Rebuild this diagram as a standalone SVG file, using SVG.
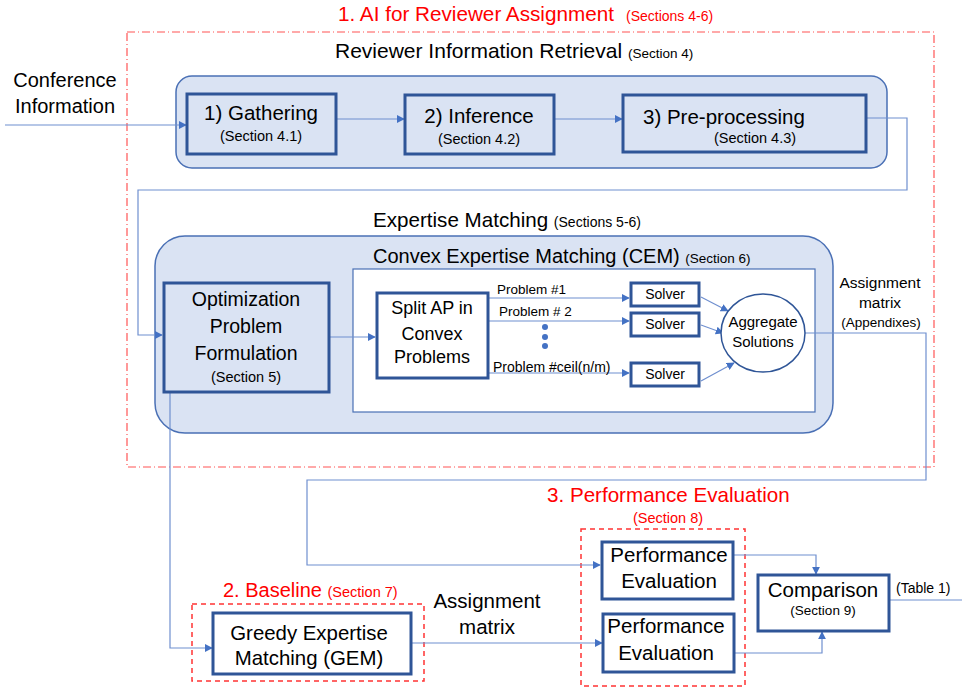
<svg xmlns="http://www.w3.org/2000/svg" width="962" height="690" viewBox="0 0 962 690">
<style>
  text { font-family: "Liberation Sans", Arial, sans-serif; fill: #000; }
  .red { fill: #ff0000; }
  .c { text-anchor: middle; }
  .cont { fill: #dae3f3; stroke: #4a70b5; stroke-width: 1.5; }
  .box { fill: #dae3f3; stroke: #2f5597; stroke-width: 3; }
  .wbox { fill: #fff; stroke: #2f5597; stroke-width: 3; }
  .inner { fill: #fff; stroke: #4a70b5; stroke-width: 1.2; }
  .wire { fill: none; stroke: #6f8fcf; stroke-width: 1.2; }
  .arr { fill: none; stroke: #6f8fcf; stroke-width: 1.2; marker-end: url(#ah); }
  .dashred { fill: none; stroke: #ff3333; stroke-width: 1.5; stroke-dasharray: 5 4; }
  .dashdot { fill: none; stroke: #ff5555; stroke-width: 1.2; stroke-dasharray: 8 3 1 3; }
</style>
<defs>
  <marker id="ah" viewBox="0 0 10 10" refX="9" refY="5" markerWidth="8" markerHeight="8" markerUnits="userSpaceOnUse" orient="auto">
    <path d="M0,0 L10,5 L0,10 z" fill="#4472c4"/>
  </marker>
</defs>

<!-- section frames and headings -->
<g id="frames">
  <text x="338" y="21" class="red" font-size="20.7">1. AI for Reviewer Assignment</text>
  <text x="626" y="21" class="red" font-size="14">(Sections 4-6)</text>
  <rect x="127" y="32" width="807" height="435" class="dashdot"/>
  <text x="335" y="58" font-size="21">Reviewer Information Retrieval <tspan font-size="13.5">(Section 4)</tspan></text>
  <text x="373" y="227" font-size="20.6">Expertise Matching <tspan font-size="14">(Sections 5-6)</tspan></text>
  <text x="547" y="502" class="red" font-size="20.6">3. Performance Evaluation</text>
  <text x="668" y="523" class="red c" font-size="14.5">(Section 8)</text>
  <rect x="581" y="529" width="164" height="157" class="dashred"/>
  <text x="223" y="597" class="red" font-size="20">2. Baseline <tspan font-size="14.5">(Section 7)</tspan></text>
  <rect x="192" y="604" width="232" height="77" class="dashred"/>
</g>

<!-- containers -->
<g id="retrieval">
  <rect x="176" y="76" width="711" height="92" rx="16" class="cont"/>
</g>
<g id="cem">
  <rect x="155" y="236" width="678" height="197" rx="30" class="cont"/>
  <text x="373" y="263" font-size="20">Convex Expertise Matching (CEM) <tspan font-size="13.5">(Section 6)</tspan></text>
  <rect x="353" y="269" width="462" height="143" class="inner"/>
</g>

<!-- connectors -->
<g id="connectors">
  <path d="M5,125 H186" class="arr"/>
  <path d="M336,119 H404" class="arr"/>
  <path d="M554,119 H622" class="arr"/>
  <path d="M866,118 H907 V190 H138 V335 H162" class="arr"/>
  <path d="M329,337 H375" class="arr"/>
  <path d="M488,298 H629" class="arr"/>
  <path d="M488,321 H629" class="arr"/>
  <path d="M488,373 H629" class="arr"/>
  <path d="M701,297 L728,311" class="arr"/>
  <path d="M701,325 L723,333" class="arr"/>
  <path d="M701,381 L734,363" class="arr"/>
  <path d="M805,333 H926 V480 H307 V565 H600" class="arr"/>
  <path d="M170,392 V648 H212" class="arr"/>
  <path d="M411,643 H602" class="arr"/>
  <path d="M733,555 H816 V574" class="arr"/>
  <path d="M734,653 H822 V632" class="arr"/>
  <path d="M889,600 H962" class="wire"/>
  <circle cx="545" cy="327" r="3" fill="#4472c4"/>
  <circle cx="545" cy="337" r="3" fill="#4472c4"/>
  <circle cx="545" cy="346" r="3" fill="#4472c4"/>
</g>

<!-- free labels -->
<g id="labels">
  <text x="65" y="87" class="c" font-size="20">Conference</text>
  <text x="65" y="113" class="c" font-size="20">Information</text>
  <text x="497" y="294" font-size="13.5">Problem #1</text>
  <text x="499" y="316" font-size="13.5">Problem # 2</text>
  <text x="493" y="372" font-size="14">Problem #ceil(n/m)</text>
  <text x="880" y="288" class="c" font-size="15.5">Assignment</text>
  <text x="880" y="308" class="c" font-size="15.5">matrix</text>
  <text x="881" y="327" class="c" font-size="13.5">(Appendixes)</text>
  <text x="487" y="608" class="c" font-size="20.5">Assignment</text>
  <text x="487" y="634" class="c" font-size="20.5">matrix</text>
  <text x="896" y="593" font-size="14">(Table 1)</text>
</g>

<g id="gathering">
  <rect x="187" y="94" width="149" height="60" class="box"/>
  <text x="261" y="120" class="c" font-size="20.5">1) Gathering</text>
  <text x="261" y="141" class="c" font-size="14.5">(Section 4.1)</text>
</g>
<g id="inference">
  <rect x="405" y="95" width="149" height="59" class="box"/>
  <text x="479" y="123" class="c" font-size="20.5">2) Inference</text>
  <text x="479" y="144" class="c" font-size="14.5">(Section 4.2)</text>
</g>
<g id="preprocessing">
  <rect x="623" y="95" width="243" height="57" class="box"/>
  <text x="643" y="124" font-size="20.5">3) Pre-processing</text>
  <text x="755" y="143" class="c" font-size="14.5">(Section 4.3)</text>
</g>
<g id="formulation">
  <rect x="164" y="283" width="165" height="109" class="box"/>
  <text x="246" y="306" class="c" font-size="19.5">Optimization</text>
  <text x="246" y="333" class="c" font-size="19.5">Problem</text>
  <text x="246" y="360" class="c" font-size="19.5">Formulation</text>
  <text x="246" y="382" class="c" font-size="14.5">(Section 5)</text>
</g>
<g id="split">
  <rect x="377" y="293" width="111" height="85" class="wbox"/>
  <text x="432" y="314" class="c" font-size="18">Split AP in</text>
  <text x="432" y="340" class="c" font-size="18">Convex</text>
  <text x="432" y="363" class="c" font-size="18">Problems</text>
</g>
<g id="solver1">
  <rect x="631" y="283" width="68" height="23" class="wbox"/>
  <text x="665" y="299" class="c" font-size="14">Solver</text>
</g>
<g id="solver2">
  <rect x="631" y="313" width="68" height="23" class="wbox"/>
  <text x="665" y="329" class="c" font-size="14">Solver</text>
</g>
<g id="solver3">
  <rect x="631" y="363" width="68" height="23" class="wbox"/>
  <text x="665" y="379" class="c" font-size="14">Solver</text>
</g>
<g id="aggregate">
  <ellipse cx="763" cy="333" rx="42" ry="39" fill="#fff" stroke="#2f5597" stroke-width="1.5"/>
  <text x="763" y="327" class="c" font-size="15">Aggregate</text>
  <text x="763" y="347" class="c" font-size="15">Solutions</text>
</g>
<g id="gem">
  <rect x="213" y="613" width="198" height="61" class="wbox"/>
  <text x="309" y="640" class="c" font-size="20.4">Greedy Expertise</text>
  <text x="309" y="665" class="c" font-size="20.4">Matching (GEM)</text>
</g>
<g id="perf1">
  <rect x="602" y="542" width="131" height="57" class="wbox"/>
  <text x="669" y="562" class="c" font-size="20.5">Performance</text>
  <text x="669" y="588" class="c" font-size="20.5">Evaluation</text>
</g>
<g id="perf2">
  <rect x="603" y="614" width="131" height="58" class="wbox"/>
  <text x="666" y="633" class="c" font-size="20.5">Performance</text>
  <text x="666" y="660" class="c" font-size="20.5">Evaluation</text>
</g>
<g id="comparison">
  <rect x="758" y="575" width="131" height="56" class="wbox"/>
  <text x="823" y="597" class="c" font-size="20.5">Comparison</text>
  <text x="823" y="615" class="c" font-size="13.5">(Section 9)</text>
</g>
</svg>
